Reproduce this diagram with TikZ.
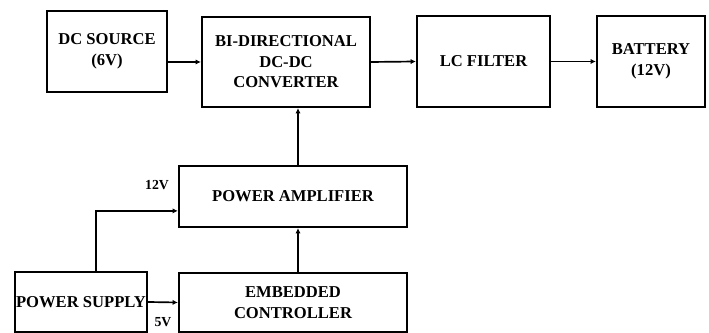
\documentclass[tikz,border=0pt]{standalone}
\usepackage{fontspec}
\setmainfont{Liberation Serif}
\usetikzlibrary{arrows.meta,positioning,calc}
\tikzset{
  blk/box/.style={
    draw=black,
    line width=1.6pt,
    fill=white,
    align=center,
    text=black,
    inner sep=2pt,
    font=\fontsize{11.8}{14.6}\selectfont\bfseries
  },
  blk/arrow/.style={-{Latex[length=1.3mm,width=1.3mm]}, line width=1.2pt, draw=black},
  blk/volt/.style={font=\fontsize{9.8}{11}\selectfont\bfseries, text=black, inner sep=1pt}
}
\begin{document}
\begin{tikzpicture}[x=1cm,y=1cm]
  \useasboundingbox (0,0) rectangle (17.725,8.325);
  \node[blk/box,minimum width=3cm,minimum height=2.025cm] (dcsrc) at (2.675,7.0375) {DC SOURCE\\(6V)};
  \node[blk/box,minimum width=4.2cm,minimum height=2.25cm] (conv) at (7.15,6.775) {BI-DIRECTIONAL\\DC-DC\\CONVERTER};
  \node[blk/box,minimum width=3.325cm,minimum height=2.275cm] (lcf) at (12.0875,6.7875) {LC FILTER};
  \node[blk/box,minimum width=2.7cm,minimum height=2.275cm] (batt) at (16.275,6.7875) {BATTERY\\(12V)};
  \node[blk/box,minimum width=5.7cm,minimum height=1.525cm] (pamp) at (7.325,3.4125) {POWER AMPLIFIER};
  \node[blk/box,minimum width=5.7cm,minimum height=1.475cm] (ctrl) at (7.325,0.7625) {EMBEDDED\\CONTROLLER};
  \node[blk/box,minimum width=3.3cm,minimum height=1.5cm,inner sep=0pt] (psup) at (2.025,0.775) {POWER SUPPLY};
  \node[blk/volt] (v12) at (3.925,3.7) {12V};
  \node[blk/volt] (v5) at (4.075,0.275) {5V};
  \draw[blk/arrow] (dcsrc.east |- conv.west) -- (conv.west);
  \draw[blk/arrow] (conv.east) -- (lcf.west);
  \draw[blk/arrow] (lcf.east) -- (batt.west);
  \draw[blk/arrow] ([xshift=0.125cm]pamp.north) -- ([xshift=0.125cm]pamp.north |- conv.south);
  \draw[blk/arrow] ([xshift=0.125cm]ctrl.north) -- ([xshift=0.125cm]pamp.south);
  \draw[blk/arrow] (psup.east) -- (ctrl.west);
  \draw[blk/arrow] ([xshift=0.375cm]psup.north) |- ([yshift=-0.36cm]pamp.west);
\end{tikzpicture}
\end{document}
